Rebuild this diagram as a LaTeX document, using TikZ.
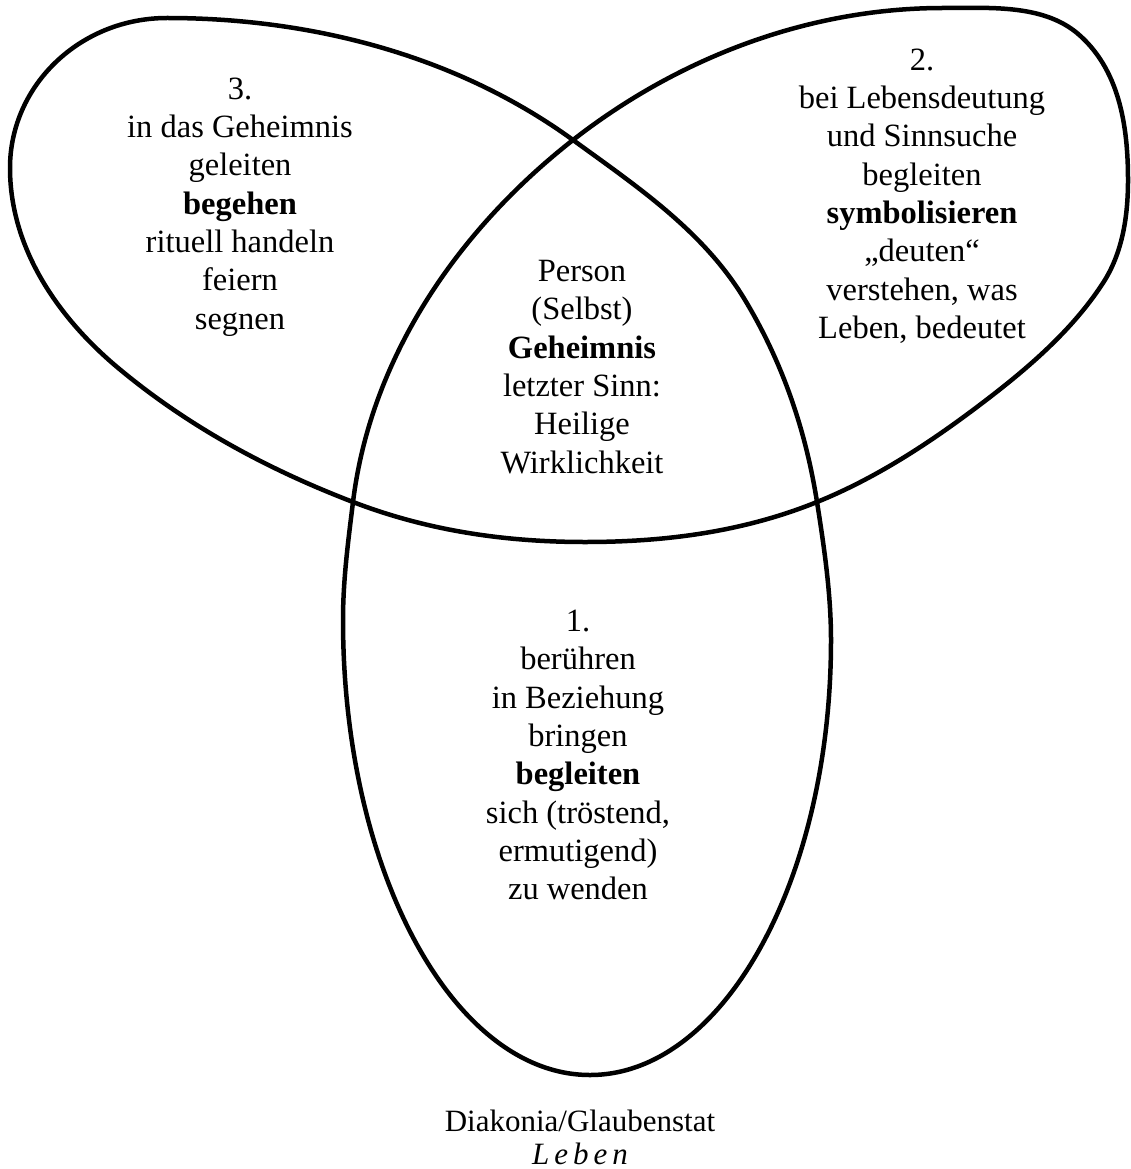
\documentclass[tikz,border=0pt]{standalone}
\usepackage{fontspec}
\setmainfont{Liberation Serif}
\begin{document}
\begin{tikzpicture}[x=1pt,y=-1pt]
\tikzset{
  lbl/.style={align=center, font=\fontsize{32.5}{38.3}\selectfont, inner sep=0pt},
  outline/.style={line width=4.5pt, line join=round}
}
\useasboundingbox (0,0) rectangle (1130,1169);
% key points of the single continuous outline
\coordinate (tipL) at (10,168);
\coordinate (crossL) at (353,502);
\coordinate (lensB) at (585,542);
\coordinate (crossR) at (817,502);
\coordinate (tipR) at (1128,180);
\coordinate (crossT) at (573,140);
\coordinate (botB) at (590,1075);
% one continuous trefoil-like outline
\draw[outline] (tipL)
 .. controls (10,247) and (56.5,316) .. (117,367)
 .. controls (187.5,426.1) and (267.1,469) .. (crossL)
 .. controls (427.7,530.7) and (505,542) .. (lensB)
 .. controls (665,542) and (742.8,532) .. (crossR)
 .. controls (874.5,478.8) and (927.5,444.3) .. (977,407)
 .. controls (1024.1,371.5) and (1070.8,332.5) .. (1103,283)
 .. controls (1122.6,252.8) and (1128,216) .. (tipR)
 .. controls (1128,125) and (1119.1,68.4) .. (1077,33)
 .. controls (1041.8,4) and (989,8) .. (943,8)
 .. controls (809,8) and (678.6,57.5) .. (crossT)
 .. controls (458,230) and (370.8,357) .. (crossL)
 .. controls (348.1,541.7) and (343,580) .. (343,620)
 .. controls (343,871.3) and (453.6,1075) .. (botB)
 .. controls (723.1,1075) and (831,880.3) .. (831,640)
 .. controls (831,594) and (824.2,547.4) .. (crossR)
 .. controls (805.6,429.9) and (782.6,362.6) .. (745,300)
 .. controls (703.8,231.4) and (637.7,187) .. (crossT)
 .. controls (456.5,55.3) and (311,18) .. (167,18)
 .. controls (80.3,18) and (10,85.2) .. cycle;
\node[lbl] (lobe3) at (240,207) {3.\\in das Geheimnis\\geleiten\\\textbf{begehen}\\rituell handeln\\feiern\\segnen};
\node[lbl] (lobe2) at (922,196) {2.\\bei Lebensdeutung\\und Sinnsuche\\begleiten\\\textbf{symbolisieren}\\„deuten“\\verstehen, was\\Leben, bedeutet};
\node[lbl] (mid) at (582,367) {Person\\(Selbst)\\\textbf{Geheimnis}\\letzter Sinn:\\Heilige\\Wirklichkeit};
\node[lbl] (lobe1) at (578,755) {1.\\berühren\\in Beziehung\\bringen\\\textbf{begleiten}\\sich (tröstend,\\ermutigend)\\zu wenden};
\node[lbl, font=\fontsize{31}{33}\selectfont] (foot) at (580,1137) {Diakonia/Glaubenstat\\\textit{L\kern5pt e\kern5pt b\kern5pt e\kern5pt n}};
\end{tikzpicture}
\end{document}
